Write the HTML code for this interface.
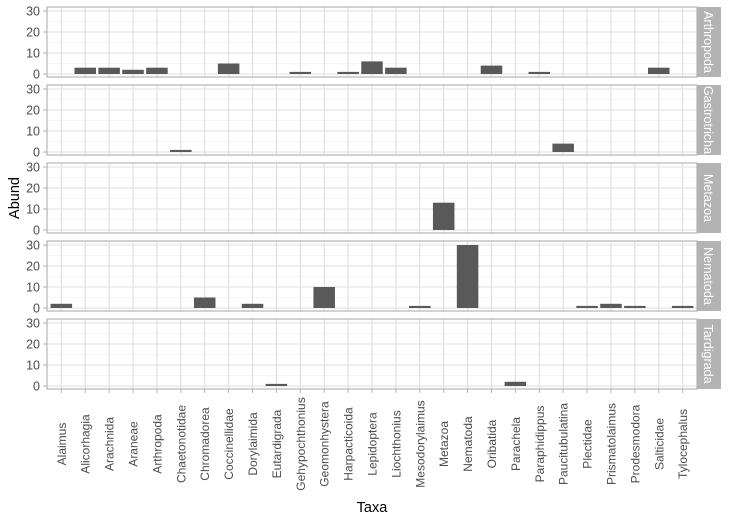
<!DOCTYPE html>
<html><head><meta charset="utf-8"><style>
html,body{margin:0;padding:0;background:#fff;}
svg{display:block;font-family:"Liberation Sans",Arial,sans-serif;}
</style></head><body>
<svg id="s" width="729" height="519" xmlns="http://www.w3.org/2000/svg"></svg>
<script>
const taxa=["Alaimus","Alicorhagia","Arachnida","Araneae","Arthropoda","Chaetonotidae","Chromadorea","Coccinellidae","Dorylaimida","Eutardigrada","Gehypochthonius","Geomonhystera","Harpacticoida","Lepidoptera","Liochthonius","Mesodorylaimus","Metazoa","Nematoda","Oribatida","Parachela","Paraphidippus","Paucitubulatina","Plectidae","Prismatolaimus","Prodesmodora","Salticidae","Tylocephalus"];
</script>
<script>
const T=["Alaimus","Alicorhagia","Arachnida","Araneae","Arthropoda","Chaetonotidae","Chromadorea","Coccinellidae","Dorylaimida","Eutardigrada","Gehypochthonius","Geomonhystera","Harpacticoida","Lepidoptera","Liochthonius","Mesodorylaimus","Metazoa","Nematoda","Oribatida","Parachela","Paraphidippus","Paucitubulatina","Plectidae","Prismatolaimus","Prodesmodora","Salticidae","Tylocephalus"];
const facets=[
["Arthropoda",{Alicorhagia:3,Arachnida:3,Araneae:2,Arthropoda:3,Coccinellidae:5,Gehypochthonius:1,Harpacticoida:1,Lepidoptera:6,Liochthonius:3,Oribatida:4,Paraphidippus:1,Salticidae:3}],
["Gastrotricha",{Chaetonotidae:1,Paucitubulatina:4}],
["Metazoa",{Metazoa:13}],
["Nematoda",{Alaimus:2,Chromadorea:5,Dorylaimida:2,Geomonhystera:10,Mesodorylaimus:1,Nematoda:30,Plectidae:1,Prismatolaimus:2,Prodesmodora:1,Tylocephalus:1}],
["Tardigrada",{Eutardigrada:1,Parachela:2}]];
const n=T.length, x0=47, x1=697, step=(x1-x0)/(n-1+1.2), xs=i=>x0+step*(0.6+i);
let h='';
facets.forEach((f,k)=>{
 const top=7+78*k, bot=top+70, y0=top+67, yv=v=>y0-v*2.1;
 h+=`<rect x="${x0}" y="${top}" width="${x1-x0}" height="70" fill="#fff"/>`;
 [5,15,25].forEach(v=>h+=`<line x1="${x0}" x2="${x1}" y1="${yv(v)}" y2="${yv(v)}" stroke="#ececec" stroke-width="0.6"/>`);
 [0,10,20,30].forEach(v=>{h+=`<line x1="${x0}" x2="${x1}" y1="${yv(v)}" y2="${yv(v)}" stroke="#dedede" stroke-width="1.1"/>`;
  h+=`<line x1="43" x2="${x0}" y1="${yv(v)}" y2="${yv(v)}" stroke="#b3b3b3"/>`;
  h+=`<text x="40" y="${yv(v)+4.5}" font-size="12.5" fill="#4d4d4d" text-anchor="end">${v}</text>`;});
 for(let i=0;i<n;i++)h+=`<line x1="${xs(i)}" x2="${xs(i)}" y1="${top}" y2="${bot}" stroke="#dedede" stroke-width="1.1"/>`;
 for(const [t,v] of Object.entries(f[1])){const i=T.indexOf(t);const bw=step*0.9;
  h+=`<rect x="${xs(i)-bw/2}" y="${yv(v)}" width="${bw}" height="${v*2.1}" fill="#595959"/>`;}
 h+=`<rect x="${x0}" y="${top}" width="${x1-x0}" height="70" fill="none" stroke="#b3b3b3" stroke-width="1.2"/>`;
 h+=`<rect x="${x1}" y="${top}" width="24" height="70" fill="#b3b3b3"/>`;
 h+=`<text transform="translate(${x1+7},${top+35}) rotate(90)" font-size="12.5" fill="#fff" text-anchor="middle">${f[0]}</text>`;
});
for(let i=0;i<n;i++){h+=`<line x1="${xs(i)}" x2="${xs(i)}" y1="389" y2="393" stroke="#b3b3b3"/>`;
 h+=`<text transform="translate(${xs(i)+4.5},444) rotate(-90)" font-size="12" fill="#4d4d4d" text-anchor="middle">${T[i]}</text>`;}
h+=`<text transform="translate(19,198) rotate(-90)" font-size="14.5" fill="#000" text-anchor="middle">Abund</text>`;
h+=`<text x="372" y="512" font-size="14.5" fill="#000" text-anchor="middle">Taxa</text>`;
document.getElementById('s').innerHTML=h;
</script>
</body></html>
